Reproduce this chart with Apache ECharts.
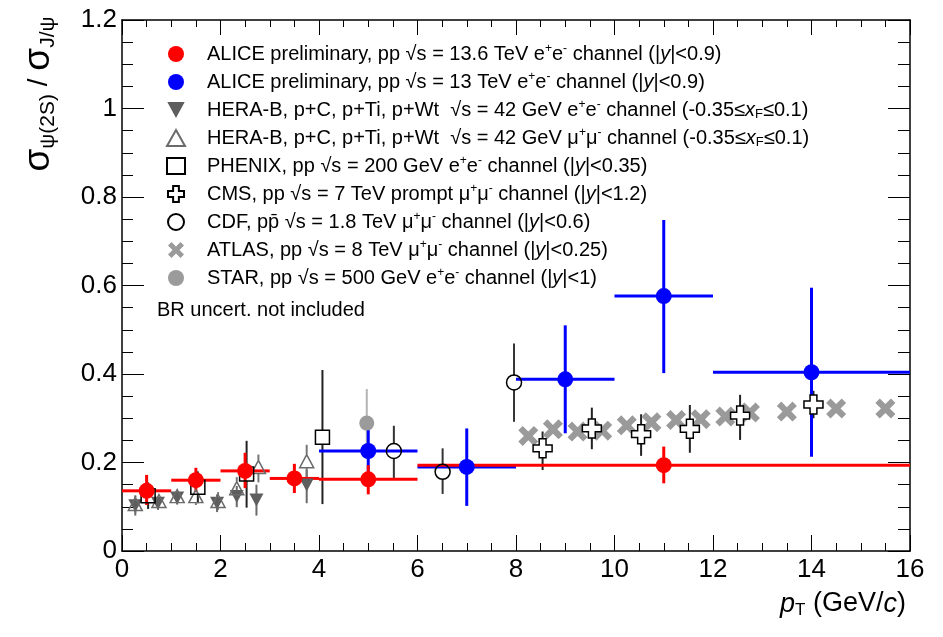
<!DOCTYPE html>
<html>
<head>
<meta charset="utf-8">
<script src="https://cdn.jsdelivr.net/npm/echarts@6/dist/echarts.min.js"></script>
<style>
html, body { margin: 0; padding: 0; background: #fff; }
#chart { width: 943px; height: 637px; }
</style>
</head>
<body>
<div id="chart"></div>
<script>
// rows: [pT, ratio, pT low, pT high, ratio low, ratio high]
var alice136 = [
  [0.5, 0.136, 0, 1, 0.104, 0.172],
  [1.5, 0.160, 1, 2, 0.133, 0.188],
  [2.5, 0.181, 2, 3, 0.142, 0.222],
  [3.5, 0.164, 3, 4, 0.131, 0.197],
  [5, 0.162, 4, 6, 0.128, 0.194],
  [11, 0.194, 6, 16, 0.153, 0.236]
];
var alice13 = [
  [5, 0.226, 4, 6, 0.155, 0.302],
  [7, 0.190, 6, 8, 0.102, 0.277],
  [9, 0.388, 8, 10, 0.266, 0.510],
  [11, 0.576, 10, 12, 0.402, 0.748],
  [14, 0.404, 12, 16, 0.213, 0.595]
];
// rows: [pT, ratio, ratio low, ratio high]
var herabEE = [
  [0.27, 0.102, 0.080, 0.124],
  [0.73, 0.108, 0.093, 0.123],
  [1.12, 0.120, 0.105, 0.135],
  [1.93, 0.108, 0.088, 0.128],
  [2.33, 0.123, 0.099, 0.147],
  [2.73, 0.115, 0.080, 0.150],
  [3.75, 0.149, 0.108, 0.184]
];
var herabMuMu = [
  [0.27, 0.106, 0.086, 0.126],
  [0.75, 0.113, 0.098, 0.128],
  [1.12, 0.124, 0.109, 0.139],
  [1.50, 0.124, 0.104, 0.144],
  [1.95, 0.113, 0.093, 0.133],
  [2.33, 0.142, 0.117, 0.167],
  [2.77, 0.190, 0.155, 0.218],
  [3.75, 0.203, 0.165, 0.240]
];
var phenix = [
  [0.53, 0.125, 0.095, 0.155],
  [1.54, 0.144, 0.108, 0.180],
  [2.53, 0.174, 0.098, 0.249],
  [4.07, 0.257, 0.106, 0.409]
];
var cms = [
  [8.54, 0.232, 0.183, 0.270],
  [9.54, 0.277, 0.230, 0.324],
  [10.54, 0.264, 0.215, 0.309],
  [11.53, 0.276, 0.222, 0.330],
  [12.55, 0.306, 0.251, 0.353],
  [14.04, 0.331, 0.300, 0.362]
];
var cdf = [
  [5.52, 0.226, 0.163, 0.283],
  [6.51, 0.179, 0.129, 0.232],
  [7.96, 0.381, 0.292, 0.469]
];
var star = [
  [4.97, 0.289, 0.210, 0.366]
];
// rows: [pT, ratio]
var atlas = [
  [8.25, 0.260], [8.75, 0.275], [9.25, 0.270], [9.75, 0.272],
  [10.25, 0.284], [10.75, 0.291], [11.25, 0.296], [11.75, 0.298],
  [12.25, 0.304], [12.75, 0.313], [13.5, 0.315], [14.5, 0.322], [15.5, 0.322]
];

var xTicks = { min: 0, max: 16, interval: 2 };
var yTicks = { min: 0, max: 1.2, interval: 0.2 };

var FONT = 'Liberation Sans, Arial, Helvetica, sans-serif';

var labels = {
  'ALICE 13.6': '{g| }ALICE preliminary, pp √s = 13.6 TeV e{sup|+}e{sup|-} channel (|{i|y}|<0.9)',
  'ALICE 13': '{g| }ALICE preliminary, pp √s = 13 TeV e{sup|+}e{sup|-} channel (|{i|y}|<0.9)',
  'HERA-B ee': '{g| }HERA-B, p+C, p+Ti, p+Wt  √s = 42 GeV e{sup|+}e{sup|-} channel (-0.35≤{i|x}{sub|F}≤0.1)',
  'HERA-B mumu': '{g| }HERA-B, p+C, p+Ti, p+Wt  √s = 42 GeV μ{sup|+}μ{sup|-} channel (-0.35≤{i|x}{sub|F}≤0.1)',
  'PHENIX': '{g| }PHENIX, pp √s = 200 GeV e{sup|+}e{sup|-} channel (|{i|y}|<0.35)',
  'CMS': '{g| }CMS, pp √s = 7 TeV prompt μ{sup|+}μ{sup|-} channel (|{i|y}|<1.2)',
  'CDF': '{g| }CDF, pp\u0304 √s = 1.8 TeV μ{sup|+}μ{sup|-} channel (|{i|y}|<0.6)',
  'ATLAS': '{g| }ATLAS, pp √s = 8 TeV μ{sup|+}μ{sup|-} channel (|{i|y}|<0.25)',
  'STAR': '{g| }STAR, pp √s = 500 GeV e{sup|+}e{sup|-} channel (|{i|y}|<1)'
};

var plusPath = 'path://M32,0 H68 V32 H100 V68 H68 V100 H32 V68 H0 V32 H32 Z';
var xPath = 'path://M0,22 L22,0 L50,28 L78,0 L100,22 L72,50 L100,78 L78,100 L50,72 L22,100 L0,78 L28,50 Z';
var downTri = 'path://M0,0 L100,0 L50,92 Z';

function full(rows) {
  return rows.map(function (r) {
    return r.length === 6 ? r : [r[0], r[1], r[0], r[0], r[2], r[3]];
  });
}

// error bars, leaving a gap of the marker radius like ROOT does
function errorBars(color, width, gap) {
  return function (params, api) {
    var x = api.value(0), y = api.value(1);
    var c = api.coord([x, y]);
    var l = api.coord([api.value(2), y]);
    var r = api.coord([api.value(3), y]);
    var lo = api.coord([x, api.value(4)]);
    var hi = api.coord([x, api.value(5)]);
    var st = { stroke: color, lineWidth: width };
    var kids = [];
    function seg(x1, y1, x2, y2) {
      if (Math.abs(x2 - x1) + Math.abs(y2 - y1) > 0.5) {
        kids.push({ type: 'line', shape: { x1: x1, y1: y1, x2: x2, y2: y2 }, style: st });
      }
    }
    if (c[0] - l[0] > gap) seg(l[0], c[1], c[0] - gap, c[1]);
    if (r[0] - c[0] > gap) seg(c[0] + gap, c[1], r[0], c[1]);
    if (c[1] - hi[1] > gap) seg(c[0], hi[1], c[0], c[1] - gap);
    if (lo[1] - c[1] > gap) seg(c[0], c[1] + gap, c[0], lo[1]);
    return { type: 'group', children: kids };
  };
}

function errSeries(name, rows, color, width, gap) {
  return {
    type: 'custom', name: name + ' err', data: full(rows),
    encode: { x: 0, y: 1 }, silent: true,
    renderItem: errorBars(color, width, gap)
  };
}

function markSeries(name, rows, opt) {
  var s = Object.assign({
    type: 'scatter', name: name, silent: true,
    data: rows.map(function (r) { return [r[0], r[1]]; })
  }, opt);
  s.itemStyle = Object.assign({ opacity: 1 }, s.itemStyle);
  return s;
}

var series = [
  errSeries('HERA-B ee', herabEE, '#6a6a6a', 2, 0),
  markSeries('HERA-B ee', herabEE, { symbol: downTri, symbolSize: [14, 13],
    itemStyle: { color: '#5e5e5e' } }),
  errSeries('HERA-B mumu', herabMuMu, '#777777', 2, 7),
  markSeries('HERA-B mumu', herabMuMu, { symbol: 'triangle', symbolSize: [14, 13],
    itemStyle: { color: 'rgba(255,255,255,0)', borderColor: '#6a6a6a', borderWidth: 1.5 } }),
  errSeries('PHENIX', phenix, '#222222', 2, 7),
  markSeries('PHENIX', phenix, { symbol: 'rect', symbolSize: 14,
    itemStyle: { color: 'rgba(255,255,255,0)', borderColor: '#000', borderWidth: 1.5 } }),
  errSeries('STAR', star, '#b4b4b4', 2, 0),
  markSeries('STAR', star, { symbol: 'circle', symbolSize: 15, itemStyle: { color: '#9b9b9b' } }),
  markSeries('ATLAS', atlas, { symbol: xPath, symbolSize: 20,
    itemStyle: { color: '#9a9a9a' } }),
  errSeries('CMS', cms, '#222222', 2, 9),
  markSeries('CMS', cms, { symbol: plusPath, symbolSize: 19,
    itemStyle: { color: '#fff', borderColor: '#000', borderWidth: 1.5 } }),
  errSeries('CDF', cdf, '#333333', 2, 7),
  markSeries('CDF', cdf, { symbol: 'circle', symbolSize: 15,
    itemStyle: { color: 'rgba(255,255,255,0)', borderColor: '#000', borderWidth: 1.5 } }),
  errSeries('ALICE 13', alice13, '#0000ff', 3, 0),
  markSeries('ALICE 13', alice13, { symbol: 'circle', symbolSize: 16, itemStyle: { color: '#0000ff' } }),
  errSeries('ALICE 13.6', alice136, '#ff0000', 3, 0),
  markSeries('ALICE 13.6', alice136, { symbol: 'circle', symbolSize: 16, itemStyle: { color: '#ff0000' } })
];

function axisLine() { return { show: true, onZero: false, lineStyle: { color: '#000', width: 1.5 } }; }
function ticks(len) { return { show: true, inside: true, length: len, lineStyle: { color: '#000', width: 1 } }; }
function minor(len) { return { show: true, splitNumber: 4, length: len, lineStyle: { color: '#000', width: 1 } }; }

var chart = echarts.init(document.getElementById('chart'));
chart.setOption({
  animation: false,
  backgroundColor: '#fff',
  grid: { left: 122, right: 33, top: 20, bottom: 86 },
  xAxis: [
    Object.assign({ type: 'value', position: 'bottom', axisLine: axisLine(), axisTick: ticks(16),
      minorTick: minor(8), splitLine: { show: false },
      axisLabel: { fontSize: 26, color: '#000', fontFamily: FONT, margin: 6, showMinLabel: true, showMaxLabel: true } }, xTicks),
    Object.assign({ type: 'value', position: 'top', axisLine: axisLine(), axisTick: ticks(15),
      minorTick: minor(7), splitLine: { show: false }, axisLabel: { show: false } }, xTicks)
  ],
  yAxis: [
    Object.assign({ type: 'value', position: 'left', axisLine: axisLine(), axisTick: ticks(22),
      minorTick: minor(11), splitLine: { show: false },
      axisLabel: { fontSize: 26, color: '#000', fontFamily: FONT, margin: 5, showMinLabel: true, showMaxLabel: true,
        formatter: function (v) { return String(Math.round(v * 10) / 10); } } }, yTicks),
    Object.assign({ type: 'value', position: 'right', axisLine: axisLine(), axisTick: ticks(22),
      minorTick: minor(12), splitLine: { show: false }, axisLabel: { show: false } }, yTicks)
  ],
  legend: {
    orient: 'vertical', left: 161, top: 38, itemWidth: 18, itemHeight: 16, itemGap: 6,
    selectedMode: false,
    data: ['ALICE 13.6', 'ALICE 13', 'HERA-B ee', 'HERA-B mumu', 'PHENIX', 'CMS', 'CDF', 'ATLAS', 'STAR'],
    formatter: function (n) { return labels[n]; },
    textStyle: {
      fontFamily: FONT, fontSize: 20, color: '#000', lineHeight: 22,
      rich: {
        g: { width: 17, fontSize: 20, lineHeight: 22 },
        sup: { fontSize: 12, lineHeight: 10, verticalAlign: 'top', fontFamily: FONT, color: '#000' },
        sub: { fontSize: 13, lineHeight: 11, verticalAlign: 'bottom', fontFamily: FONT, color: '#000' },
        i: { fontStyle: 'italic', fontSize: 20, lineHeight: 22, fontFamily: FONT, color: '#000' }
      }
    }
  },
  graphic: [
    { type: 'text', left: 157, top: 300, style: { text: 'BR uncert. not included', fontSize: 20, fontFamily: FONT, fill: '#000' } },
    { type: 'text', x: 39, y: 94, rotation: Math.PI / 2,
      style: {
        text: '{s|σ}{b|ψ(2S)}{m| / }{s|σ}{b|J/ψ}', align: 'center', verticalAlign: 'middle',
        rich: {
          s: { fontSize: 37, fontFamily: FONT, fill: '#000', lineHeight: 40 },
          m: { fontSize: 28, fontFamily: FONT, fill: '#000', lineHeight: 40 },
          b: { fontSize: 21, fontFamily: FONT, fill: '#000', lineHeight: 20, verticalAlign: 'bottom' }
        }
      } },
    { type: 'text', x: 906, y: 604,
      style: {
        text: '{i|p}{b|T} (GeV/{i|c})', align: 'right', verticalAlign: 'middle',
        fontSize: 27, fontFamily: FONT, fill: '#000', lineHeight: 30,
        rich: {
          i: { fontStyle: 'italic', fontSize: 27, fontFamily: FONT, fill: '#000', lineHeight: 30 },
          b: { fontSize: 17, fontFamily: FONT, fill: '#000', lineHeight: 15, verticalAlign: 'bottom' }
        }
      } }
  ],
  series: series
});
</script>
</body>
</html>
